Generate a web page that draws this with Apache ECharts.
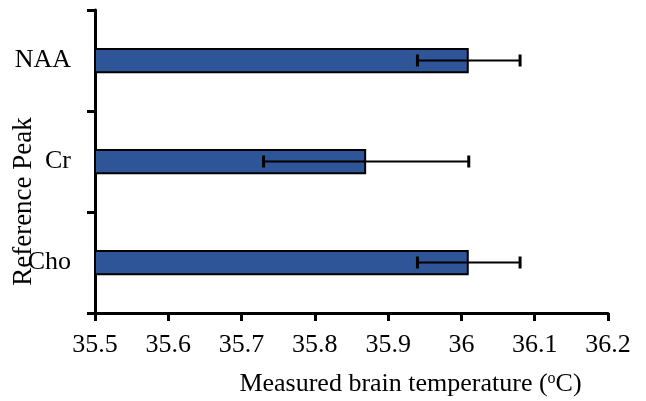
<!DOCTYPE html>
<html><head><meta charset="utf-8">
<script src="https://cdn.jsdelivr.net/npm/echarts@6/dist/echarts.min.js"></script>
<style>html,body{margin:0;padding:0;background:#fff}#c{width:646px;height:401px}</style>
</head><body><div id="c"></div>
<script>
const categories = ['Cho', 'Cr', 'NAA'];
const temperatures = [36.01, 35.87, 36.01];
const errors = [0.07, 0.14, 0.07];
const xTicks = [35.5, 35.6, 35.7, 35.8, 35.9, 36, 36.1, 36.2];

const font = 'Liberation Serif, Times New Roman, serif';
const fs = 26;
const errData = categories.map((c, i) => [i, temperatures[i] - errors[i], temperatures[i] + errors[i]]);

const chart = echarts.init(document.getElementById('c'));
chart.setOption({
  animation: false,
  grid: { left: 95, right: 38, top: 10, bottom: 88, containLabel: false, outerBoundsMode: 'none' },
  xAxis: {
    type: 'value', min: 35.5, max: 36.2, interval: 0.1,
    axisLine: { show: true, lineStyle: { color: '#000', width: 3 } },
    axisTick: { show: true, length: 8, lineStyle: { color: '#000', width: 3 } },
    splitLine: { show: false },
    axisLabel: { color: '#000', fontFamily: font, fontSize: fs, margin: 19,
      formatter: v => { const t = xTicks.find(x => Math.abs(x - v) < 1e-6); return t === undefined ? '' : String(t); } },
    name: '{a|Measured brain temperature (}{s|o}{a|C)}',
    nameLocation: 'middle', nameGap: 58, nameMoveOverlap: false,
    nameTextStyle: { padding: [0, 0, 0, 118], rich: {
      a: { fontFamily: font, fontSize: fs, color: '#000' },
      s: { fontFamily: font, fontSize: 16, color: '#000', verticalAlign: 'top', padding: [0, 0, 10, 0] } } }
  },
  yAxis: {
    type: 'category', data: categories,
    axisLine: { show: true, lineStyle: { color: '#000', width: 3 } },
    axisTick: { show: true, length: 8, lineStyle: { color: '#000', width: 3 } },
    axisLabel: { color: '#000', fontFamily: font, fontSize: fs, margin: 24 },
    name: 'Reference Peak', nameLocation: 'middle', nameGap: 58, nameMoveOverlap: false,
    nameTextStyle: { fontFamily: font, fontSize: 27, color: '#000', padding: [0, 80, 0, 0] }
  },
  series: [
    { type: 'bar', data: temperatures, barWidth: '25%',
      itemStyle: { color: '#2E5597', borderColor: '#000', borderWidth: 2 } },
    { type: 'custom', data: errData, z: 10,
      renderItem: (params, api) => {
        const y = api.value(0);
        const p1 = api.coord([api.value(1), y]);
        const p2 = api.coord([api.value(2), y]);
        const h = 6;
        return { type: 'group', children: [
          { type: 'line', shape: { x1: p1[0], y1: p1[1], x2: p2[0], y2: p2[1] }, style: { stroke: '#000', lineWidth: 2 } },
          { type: 'line', shape: { x1: p1[0], y1: p1[1] - h, x2: p1[0], y2: p1[1] + h }, style: { stroke: '#000', lineWidth: 3 } },
          { type: 'line', shape: { x1: p2[0], y1: p2[1] - h, x2: p2[0], y2: p2[1] + h }, style: { stroke: '#000', lineWidth: 3 } }
        ] };
      } }
  ]
});
</script></body></html>
